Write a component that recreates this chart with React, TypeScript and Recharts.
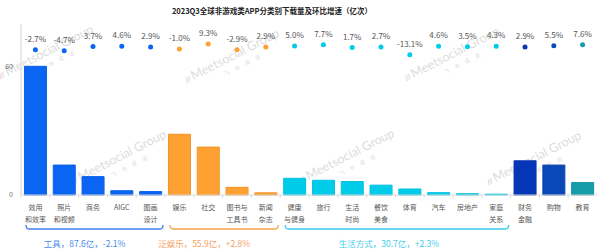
import { ComposedChart, Bar, Line, XAxis, YAxis, Cell, LabelList } from "recharts";

// Q3 downloads per app category (100M), with QoQ growth (%)
const categories = [
  "效用\n和效率", "照片\n和视频", "商务", "AIGC", "图画\n设计",
  "娱乐", "社交", "图书与\n工具书", "新闻\n杂志",
  "健康\n与健身", "旅行", "生活\n时尚", "餐饮\n美食", "体育", "汽车", "房地产", "家庭\n关系",
  "财务\n金融", "购物", "教育",
];
const downloads = [
  60.2, 14.0, 8.6, 2.0, 1.6,
  28.4, 22.4, 3.6, 1.0,
  7.8, 6.9, 6.3, 4.6, 2.8, 1.1, 0.6, 0.4,
  16.0, 14.0, 5.8,
];
const growth = [
  -2.7, -4.7, 3.7, 4.6, 2.9,
  -1.0, 9.3, -2.9, 2.9,
  5.0, 7.7, 1.7, 2.7, -13.1, 4.6, 3.5, 4.3,
  2.9, 5.5, 7.6,
];
const segments = [
  "tools", "tools", "tools", "tools", "tools",
  "fun", "fun", "fun", "fun",
  "life", "life", "life", "life", "life", "life", "life", "life",
  "finance", "shopping", "edu",
];

// category groups shown under the axis
const groupKeys = ["tools", "fun", "life"];
const groupNames = ["工具", "泛娱乐", "生活方式"];
const groupTotals = [87.6, 55.9, 30.7];
const groupChanges = [-2.1, 2.8, 2.3];
const groupRanges = [[0, 4], [5, 8], [9, 16]];

const barColors: Record<string, string> = {
  tools: "#0A66F2",
  fun: "#FFA033",
  life: "#00CCEA",
  finance: "#0636B8",
  shopping: "#0A48B8",
  edu: "#159BAA",
};
const barStrokes: Record<string, string> = {
  tools: "#0A60E6",
  fun: "#F39426",
  life: "#00C2E0",
  finance: "#0632AA",
  shopping: "#0844AE",
  edu: "#14929F",
};
const bracketColors: Record<string, string> = {
  tools: "#3F7FEA",
  fun: "#F6A24C",
  life: "#3CCBEA",
};
const groupTextColors: Record<string, string> = {
  tools: "#4A88EE",
  fun: "#F5A05E",
  life: "#3FCDEE",
};

const data = categories.map((name, i) => ({
  name,
  value: downloads[i],
  rate: growth[i],
  seg: segments[i],
}));

const W = 600;
const H = 252;
const Y_AXIS_W = 21;
const MARGIN = { top: 24, right: 3, bottom: 0, left: 0 };
const X_AXIS_H = 57;
const PLOT_LEFT = MARGIN.left + Y_AXIS_W;
const BAND = (W - PLOT_LEFT - MARGIN.right) / categories.length;
const BASE_Y = H - X_AXIS_H;
const LABEL_SHIFT = [-10, -20, -8];

const FONT = "'Noto Sans CJK SC', 'Noto Sans', sans-serif";

const CategoryTick = ({ x, y, payload }: any) => {
  const lines = String(payload.value).split("\n");
  return (
    <g>
      <line x1={x - BAND / 2} x2={x - BAND / 2} y1={y} y2={y + 3} stroke="#dcdcdc" />
      <text x={x} y={y + 15} textAnchor="middle" fontSize={7} fill="#555">
        {lines.map((l, i) => (
          <tspan key={i} x={x} dy={i === 0 ? 0 : 12}>
            {l}
          </tspan>
        ))}
      </text>
    </g>
  );
};

const RateDot = (props: any) => {
  const { cx, cy, index } = props;
  if (cx == null || cy == null) return <g key={index} />;
  return <circle key={index} cx={cx} cy={cy} r={2.5} fill={barColors[segments[index]]} />;
};

// faint brand marks across the canvas
const watermarkSpots = [
  [4, 78], [190, 82], [410, 80],
  [77, 183], [305, 182], [492, 184],
];

const Watermark = () => (
  <svg width={W} height={H} style={{ position: "absolute", left: 0, top: 0 }}>
    {watermarkSpots.map(([x, y], i) => (
      <g key={i} transform={`translate(${x},${y}) rotate(-27)`} opacity={0.3}>
        <path d="M-3,0 l2,-6" stroke="#f08080" strokeWidth={1.4} />
        <path d="M-0.5,0 l2,-6" stroke="#7fb0f0" strokeWidth={1.4} />
        <text x={4} y={0} fontSize={12.5} fontFamily="Lato, sans-serif" fill="#8c8c8c">
          Meetsocial Group
        </text>
        <text x={34} y={11} fontSize={5.5} fill="#8c8c8c" letterSpacing={6}>
          飞书深诺
        </text>
      </g>
    ))}
  </svg>
);

const Annotations = () => (
  <svg width={W} height={H} style={{ position: "absolute", left: 0, top: 0, pointerEvents: "none" }}>
    <text x={272} y={14} textAnchor="middle" fontSize={7.5} fontWeight="bold" fill="#222">
      2023Q3全球非游戏类APP分类别下载量及环比增速（亿次）
    </text>
    {groupKeys.map((key, g) => {
      const [from, to] = groupRanges[g];
      const x1 = PLOT_LEFT + from * BAND + 5;
      const x2 = PLOT_LEFT + (to + 1) * BAND - 2;
      const y0 = BASE_Y + 30;
      const y1 = BASE_Y + 34;
      const sign = groupChanges[g] >= 0 ? "+" : "";
      return (
        <g key={key}>
          <path
            d={`M${x1},${y0} Q${x1},${y1} ${x1 + 3},${y1} L${x2 - 3},${y1} Q${x2},${y1} ${x2},${y0}`}
            fill="none"
            stroke={bracketColors[key]}
            strokeWidth={1.3}
          />
          <text
            x={(x1 + x2) / 2 + LABEL_SHIFT[g]}
            y={BASE_Y + 52}
            textAnchor="middle"
            fontSize={8.5}
            fill={groupTextColors[key]}
          >
            {`${groupNames[g]}，${groupTotals[g].toFixed(1)}亿，${sign}${groupChanges[g].toFixed(1)}%`}
          </text>
        </g>
      );
    })}
  </svg>
);

export default function App() {
  return (
    <div
      style={{
        position: "fixed",
        left: 0,
        top: 0,
        width: W,
        height: H,
        background: "#fff",
        fontFamily: FONT,
        overflow: "hidden",
      }}
    >
      <Watermark />
      <div style={{ position: "absolute", left: 0, top: 0 }}>
        <ComposedChart width={W} height={H} data={data} margin={MARGIN} barCategoryGap="12%">
          <XAxis
            dataKey="name"
            interval={0}
            height={X_AXIS_H}
            tick={<CategoryTick />}
            tickLine={false}
            tickSize={0}
            tickMargin={0}
            axisLine={{ stroke: "#d9d9d9" }}
          />
          <YAxis
            yAxisId="left"
            width={Y_AXIS_W}
            domain={[0, 80]}
            ticks={[0, 60]}
            tickLine={false}
            tickSize={0}
            tickMargin={8}
            axisLine={{ stroke: "#d4d4d4" }}
            tick={{ fontSize: 7, fill: "#666" }}
          />
          <YAxis yAxisId="rate" orientation="right" hide domain={[-300, 50]} />
          <Bar yAxisId="left" dataKey="value" isAnimationActive={false} strokeWidth={1}>
            {data.map((d, i) => (
              <Cell key={i} fill={barColors[d.seg]} stroke={barStrokes[d.seg]} />
            ))}
          </Bar>
          <Line
            yAxisId="rate"
            dataKey="rate"
            stroke="none"
            dot={RateDot}
            activeDot={false}
            isAnimationActive={false}
          >
            <LabelList
              dataKey="rate"
              position="top"
              offset={8}
              fontSize={8}
              fill="#555"
              formatter={(v: any) => `${Number(v).toFixed(1)}%`}
            />
          </Line>
        </ComposedChart>
      </div>
      <Annotations />
    </div>
  );
}
